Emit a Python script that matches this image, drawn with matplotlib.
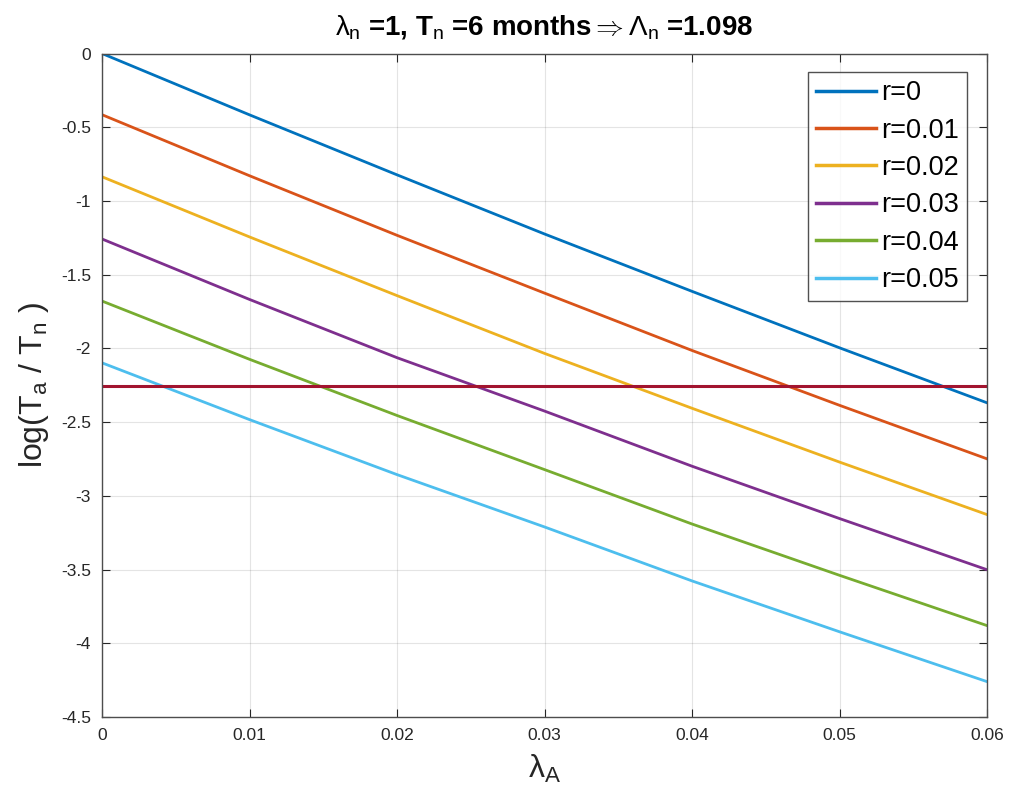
import matplotlib
matplotlib.use("Agg")
import matplotlib.pyplot as plt

plt.rcParams['font.family'] = ['Liberation Sans', 'DejaVu Sans']
plt.rcParams['mathtext.fontset'] = 'custom'
plt.rcParams['mathtext.rm'] = 'Liberation Sans'
plt.rcParams['mathtext.it'] = 'Liberation Sans'
plt.rcParams['mathtext.bf'] = 'Liberation Sans:bold'

lambda_A = [0.0, 0.01, 0.02, 0.03, 0.04, 0.05, 0.06]
labels = ['r=0', 'r=0.01', 'r=0.02', 'r=0.03', 'r=0.04', 'r=0.05']
r0 = [0.000, -0.416, -0.823, -1.224, -1.613, -1.996, -2.369]
r001 = [-0.415, -0.829, -1.233, -1.625, -2.014, -2.386, -2.749]
r002 = [-0.836, -1.244, -1.642, -2.034, -2.406, -2.771, -3.127]
r003 = [-1.258, -1.668, -2.063, -2.425, -2.799, -3.154, -3.501]
r004 = [-1.679, -2.074, -2.455, -2.822, -3.191, -3.539, -3.880]
r005 = [-2.098, -2.483, -2.856, -3.211, -3.577, -3.922, -4.260]
series = [r0, r001, r002, r003, r004, r005]
threshold = -2.254
colors = ['#0072BD', '#D95319', '#EDB120', '#7E2F8E', '#77AC30', '#4DBEEE']
xticks = [0, 0.01, 0.02, 0.03, 0.04, 0.05, 0.06]
xtick_labels = ['0', '0.01', '0.02', '0.03', '0.04', '0.05', '0.06']
yticks = [0, -0.5, -1, -1.5, -2, -2.5, -3, -3.5, -4, -4.5]
ytick_labels = ['0', '-0.5', '-1', '-1.5', '-2', '-2.5', '-3', '-3.5', '-4', '-4.5']

fig = plt.figure(figsize=(10.1, 8.02), dpi=100)
ax = fig.add_axes([102/1010, 85/802, 885/1010, 663.5/802])

for lab, ys, c in zip(labels, series, colors):
    ax.plot(lambda_A, ys, color=c, lw=2, label=lab)
ax.plot([lambda_A[0], lambda_A[-1]], [threshold, threshold], color='#A2142F', lw=2.2)

ax.set_xlim(0, 0.06)
ax.set_ylim(-4.5, 0)
ax.set_xticks(xticks)
ax.set_xticklabels(xtick_labels)
ax.set_yticks(yticks)
ax.set_yticklabels(ytick_labels)
ax.grid(True, color='#262626', alpha=0.12, lw=0.8)
ax.tick_params(direction='in', length=6, colors='#262626', labelsize=12.5,
               labelcolor='#262626', pad=8)
for sp in ax.spines.values():
    sp.set_color('#4d4d4d')
    sp.set_linewidth(1.0)
ax.tick_params(top=True, right=True)

ax.set_xlabel(r'$\lambda_{A}$', fontsize=23, color='#262626', labelpad=7)
ax.set_ylabel(r'log(T$_{a}$ / T$_{n}$ )', fontsize=23, color='#262626', labelpad=7)
ax.set_title(r'$\lambda_{n}$ =1, T$_{n}$ =6 months$\Rightarrow\Lambda_{n}$ =1.098',
             fontsize=20, fontweight='bold', color='#000000', pad=14)

leg = ax.legend(loc='upper right', bbox_to_anchor=(0.9774, 0.972), borderaxespad=0,
                fontsize=19.5, frameon=True, fancybox=False, edgecolor='#262626',
                handlelength=2.2, handletextpad=0.2, borderpad=0.3, labelspacing=0.42)
leg.get_frame().set_linewidth(1.0)
for line in leg.get_lines():
    line.set_linewidth(2.5)

fig.savefig('out.png', dpi=100, facecolor='white')
